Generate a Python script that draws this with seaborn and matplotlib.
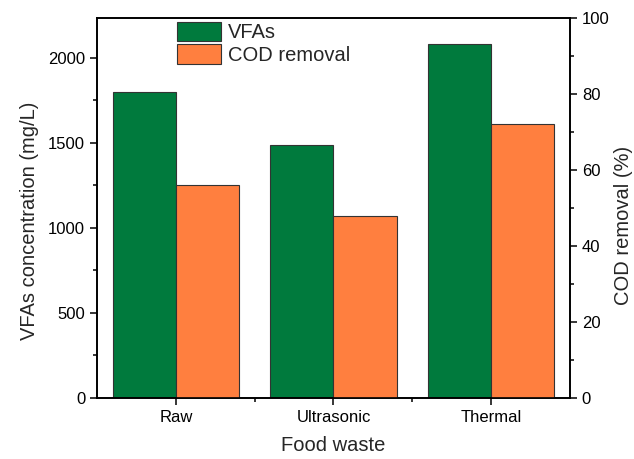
import matplotlib
matplotlib.use("Agg")
import matplotlib.pyplot as plt
import seaborn as sns
import pandas as pd
from matplotlib.patches import Patch
from matplotlib.ticker import MultipleLocator, FixedLocator

categories = ["Raw", "Ultrasonic", "Thermal"]
vfa_values = [1800, 1485, 2080]
cod_values = [56, 48, 72]
series_names = ["VFAs", "COD removal"]

green = "#007A3D"
orange = "#FF7F3F"
palette = {series_names[0]: green, series_names[1]: orange}

sns.set_theme(style="ticks")
plt.rcParams["font.family"] = ["Liberation Sans", "DejaVu Sans"]

fig = plt.figure(figsize=(6.34, 4.59), dpi=100)
ax = fig.add_axes([0.153, 0.133, 0.746, 0.828])
ax2 = ax.twinx()

vfa_df = pd.DataFrame({"Food waste": categories, "value": vfa_values,
                       "series": series_names[0]})
cod_df = pd.DataFrame({"Food waste": categories, "value": cod_values,
                       "series": series_names[1]})

common = dict(x="Food waste", y="value", hue="series", hue_order=series_names,
              order=categories, palette=palette, width=0.8, dodge=True,
              edgecolor="#333333", linewidth=0.8, saturation=1, legend=False,
              errorbar=None)
sns.barplot(data=vfa_df, ax=ax, **common)
sns.barplot(data=cod_df, ax=ax2, **common)

ax.set_xlim(-0.5, 2.5)
ax.set_ylim(0, 2235)
ax2.set_ylim(0, 100)

ax.set_xlabel("Food waste", fontsize=14.5, labelpad=8)
ax.set_ylabel("VFAs concentration (mg/L)", fontsize=14.5)
ax2.set_ylabel("COD removal (%)", fontsize=14.5)
ax.yaxis.set_label_coords(-0.123, 0.465)
ax2.yaxis.set_label_coords(1.093, 0.455)

ax.yaxis.set_major_locator(MultipleLocator(500))
ax.yaxis.set_minor_locator(MultipleLocator(250))
ax2.yaxis.set_major_locator(MultipleLocator(20))
ax2.yaxis.set_minor_locator(MultipleLocator(10))
ax.xaxis.set_minor_locator(FixedLocator([0.5, 1.5]))

for a in (ax, ax2):
    a.tick_params(which="major", direction="out", length=5, width=1.1,
                  labelsize=12, color="black", labelcolor="black")
    a.tick_params(which="minor", direction="out", length=3, width=1.1,
                  color="black")
    for s in a.spines.values():
        s.set_visible(True)
        s.set_linewidth(1.2)
        s.set_color("black")
ax2.tick_params(axis="x", which="both", bottom=False, top=False)

handles = [Patch(facecolor=palette[n], edgecolor="#333333", linewidth=0.8, label=n)
           for n in series_names]
ax.legend(handles=handles, loc="upper left", bbox_to_anchor=(0.161, 1.0),
          frameon=False, fontsize=14.5, handlelength=2.2, handleheight=1.1,
          labelspacing=0.1, handletextpad=0.3, borderaxespad=0.0,
          borderpad=0.2)

fig.savefig("out.png", dpi=100)
